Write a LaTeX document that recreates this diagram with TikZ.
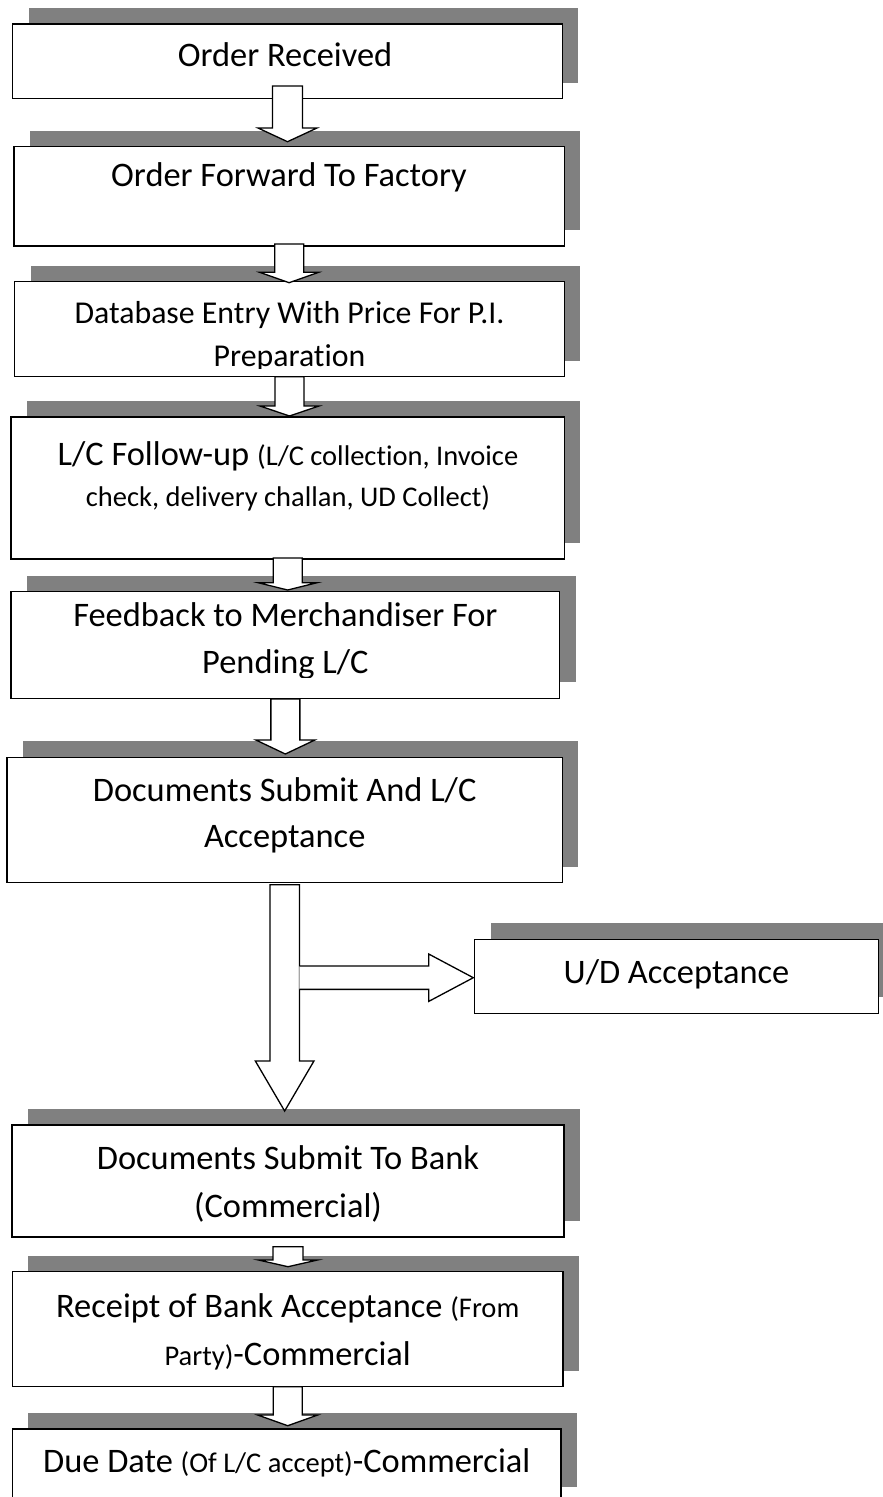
\documentclass[tikz,border=0pt]{standalone}
\usepackage{fontspec}
\setmainfont{Carlito}[Ligatures={NoCommon}]
\usetikzlibrary{calc,shadows}

\tikzset{
  stage/.style={draw, line width=1.4pt, fill=white, inner sep=0pt, outer sep=0pt,
    anchor=north west,
    general shadow={fill=black!50, shadow xshift=16pt, shadow yshift=16pt}},
  caption/.style={anchor=base, align=center, inner sep=0pt,
    font=\fontsize{34.4}{#1}\selectfont},
  caption/.default=46.6,
  hollow/.style={draw, fill=white, line width=1.3pt, line join=miter}
}
\newcommand{\sm}[1]{{\fontsize{28.5}{34}\selectfont #1}}
% block arrow: from, to, start shift, tip shift, head length, half shaft, half head
\newcommand{\downhollow}[7]{%
  \coordinate (#1s) at ($(#1.south)+(0,#3)$);
  \coordinate (#2t) at ($(#2.north)+(0,#4)$);
  \draw[hollow] ($(#1s)+(-#6,0)$) -- ($(#1s)+(#6,0)$)
    -- ($(#1s|-#2t)+(#6,-#5)$) -- ($(#1s|-#2t)+(#7,-#5)$) -- (#1s|-#2t)
    -- ($(#1s|-#2t)+(-#7,-#5)$) -- ($(#1s|-#2t)+(-#6,-#5)$) -- cycle;
}

\begin{document}
\begin{tikzpicture}[x=1pt,y=-1pt]
\useasboundingbox (0,0) rectangle (883,1497);
\clip (0,0) rectangle (883,1497);

% boxes
\node[stage, minimum width=549.6pt, minimum height=74.7pt] (o1) at (12.7,24) {};
\node[stage, minimum width=550.3pt, minimum height=99.3pt] (o2) at (14,146.7) {};
\node[stage, minimum width=549.6pt, minimum height=95pt] (o3) at (14.7,281.7) {};
\node[stage, minimum width=553.3pt, minimum height=142pt] (o4) at (11,417) {};
\node[stage, minimum width=548.7pt, minimum height=106.6pt] (o5) at (11,591.7) {};
\node[stage, minimum width=555.3pt, minimum height=125.4pt] (o6) at (7,757.3) {};
\node[stage, minimum width=404.1pt, minimum height=74pt] (ud) at (474.5,939.3) {};
\node[stage, minimum width=552pt, minimum height=112pt] (o7) at (12,1125) {};
\node[stage, minimum width=550.6pt, minimum height=115pt] (o8) at (12.4,1271.7) {};
\node[stage, minimum width=548.6pt, minimum height=74pt] (o9) at (12.4,1429) {};

% arrows
\downhollow{o1}{o2}{-12.7}{-5}{13.7}{15}{29.5}
\downhollow{o2}{o3}{-2}{1}{10.4}{14.5}{29.5}
\downhollow{o3}{o4}{0}{-1}{10}{14.5}{29.5}
\downhollow{o4}{o5}{-1}{-1.7}{7.3}{14.5}{29.5}
\downhollow{o5}{o6}{0.7}{-3.3}{14}{14.5}{29.5}
\downhollow{o6}{o7}{2}{-14}{50}{14.75}{29.3}
\downhollow{o7}{o8}{9.7}{-5}{6.7}{15}{29.5}
\downhollow{o8}{o9}{0}{-3.3}{10.7}{14.5}{30}

\coordinate (hs) at ($(o6s|-ud.west)+(14.75,1.4)$);
\coordinate (ht) at ($(ud.west)+(-1.2,1.4)$);
\draw[hollow] ($(hs)+(0,-11.65)$) -- ($(ht)+(-44.5,-11.65)$) -- ($(ht)+(-44.5,-23.65)$)
  -- (ht) -- ($(ht)+(-44.5,23.65)$) -- ($(ht)+(-44.5,11.65)$) -- ($(hs)+(0,11.65)$);

% texts
\node[caption] (o1x) at (285,66.7) {Order Received};
\node[caption] (o2x) at (289,186.7) {Order Forward To Factory};
\begin{scope}
  \clip (o3.north west) rectangle ($(o3.south east)+(0,-8.7)$);
  \node[caption, font=\fontsize{31.8}{42.7}\selectfont] (o3x) at (289.5,366)
    {Database Entry With Price For P.I.\\Preparation};
\end{scope}
\node[caption=41] (o4x) at (288,506)
  {L/C Follow-up \sm{(L/C collection, Invoice}\\\sm{check, delivery challan, UD Collect)}};
\begin{scope}
  \clip (o5.north west) rectangle ($(o5.south east)+(0,-21)$);
  \node[caption] (o5x) at (285.4,673.3) {Feedback to Merchandiser For\\Pending L/C};
\end{scope}
\node[caption=46] (o6x) at (284.7,847) {Documents Submit And L/C\\Acceptance};
\node[caption] (udx) at (676.5,983.3) {U/D Acceptance};
\node[caption=48] (o7x) at (288,1217) {Documents Submit To Bank\\(Commercial)};
\node[caption=48] (o8x) at (287.7,1365)
  {Receipt of Bank Acceptance \sm{(From}\\\sm{Party)}-Commercial};
\node[caption] (o9x) at (286.7,1472.7) {Due Date \sm{(Of L/C accept)}-Commercial};
\end{tikzpicture}
\end{document}
